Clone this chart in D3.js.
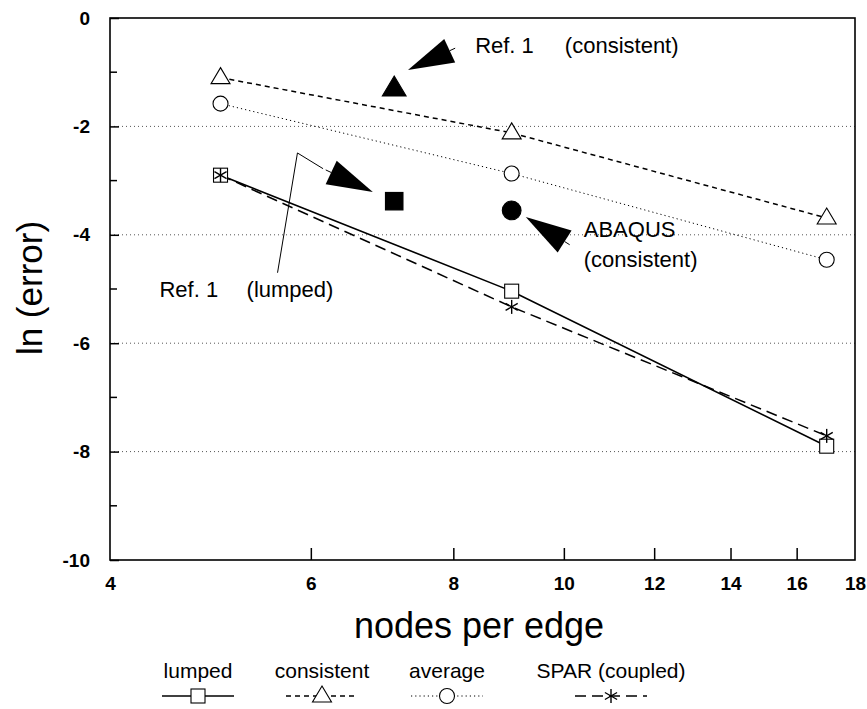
<!DOCTYPE html>
<html>
<head>
<meta charset="utf-8">
<script src="https://cdn.jsdelivr.net/npm/d3@7"></script>
<style>
  body { margin: 0; background: #fff; }
  text { font-family: "Liberation Sans", Arial, sans-serif; fill: #000; }
</style>
</head>
<body>
<div id="chart"></div>
<script>
// nodes per edge
var nodes = [5, 9, 17];
// ln(error) per formulation
var lumped = [-2.9, -5.04, -7.9];
var consistent = [-1.1, -2.12, -3.69];
var average = [-1.58, -2.87, -4.46];
var spar = [-2.9, -5.33, -7.71];

// single reference results (filled symbols)
var refPoints = [
  {shape: "triangle", x: 7.1, y: -1.3},
  {shape: "square", x: 7.1, y: -3.38},
  {shape: "circle", x: 9.0, y: -3.55}
];

var xTicks = [4, 6, 8, 10, 12, 14, 16, 18];
var yTicks = [0, -2, -4, -6, -8, -10];
var yMinor = [-1, -3, -5, -7, -9];
var gridY = [-2, -4, -6, -8];

var width = 867, height = 709;
var margin = {top: 18, right: 12, bottom: 149, left: 110};

var svg = d3.select("#chart").append("svg")
    .attr("width", width)
    .attr("height", height);

var x = d3.scaleLog().domain([4, 18]).range([margin.left, width - margin.right]);
var y = d3.scaleLinear().domain([-10, 0]).range([height - margin.bottom, margin.top]);

// gridlines
svg.selectAll(".grid").data(gridY).enter().append("line")
    .attr("x1", x(4)).attr("x2", x(18))
    .attr("y1", function(d){ return y(d); })
    .attr("y2", function(d){ return y(d); })
    .style("stroke", "#555")
    .style("stroke-width", 1)
    .style("stroke-dasharray", "1,3");

// frame
svg.append("rect")
    .attr("x", x(4)).attr("y", y(0))
    .attr("width", x(18) - x(4))
    .attr("height", y(-10) - y(0))
    .style("fill", "none")
    .style("stroke", "#000")
    .style("stroke-width", 1.6);

// axes, ticks point inside
var yAxis = d3.axisLeft(y).tickValues(yTicks).tickSize(-9).tickPadding(20)
    .tickFormat(function(d){ return d3.format("d")(d).replace("−", "-"); });
var gy = svg.append("g").attr("transform", "translate(" + x(4) + ",0)").call(yAxis);
gy.select(".domain").remove();
gy.selectAll("line").style("stroke-width", 1.5);
gy.selectAll("text").style("font-size", "19px").style("font-weight", "bold");

svg.selectAll(".yminor").data(yMinor).enter().append("line")
    .attr("x1", x(4)).attr("x2", x(4) + 7)
    .attr("y1", function(d){ return y(d); })
    .attr("y2", function(d){ return y(d); })
    .style("stroke", "#000").style("stroke-width", 1.5);

var xAxis = d3.axisBottom(x).tickValues(xTicks).tickSize(-12).tickPadding(17)
    .tickFormat(d3.format("d"));
var gx = svg.append("g").attr("transform", "translate(0," + y(-10) + ")").call(xAxis);
gx.select(".domain").remove();
gx.selectAll("line").style("stroke-width", 1.5)
    .filter(function(d){ return d == 4 || d == 18; }).remove();
gx.selectAll("text").style("font-size", "19px").style("font-weight", "bold");

// axis titles
svg.append("text")
    .attr("transform", "translate(42,288) rotate(-90)")
    .style("text-anchor", "middle")
    .style("font-size", "35px")
    .text("ln (error)");

svg.append("text")
    .attr("x", 479)
    .attr("y", 638)
    .style("text-anchor", "middle")
    .style("font-size", "36px")
    .text("nodes per edge");

// series
var series = [
  {name: "lumped", values: lumped, dash: null, width: 1.6, marker: "square"},
  {name: "consistent", values: consistent, dash: "5,4", width: 1.5, marker: "triangle"},
  {name: "average", values: average, dash: "1.2,3", width: 1, marker: "circle"},
  {name: "SPAR (coupled)", values: spar, dash: "11,6", width: 1.5, marker: "star"}
];

var line = d3.line()
    .x(function(d){ return x(d[0]); })
    .y(function(d){ return y(d[1]); });

function marker(g, shape, filled, size) {
  var s = size || 1;
  var fill = filled ? "#000" : "#fff";
  if (shape == "square") {
    g.append("rect").attr("x", -7 * s).attr("y", -7 * s).attr("width", 14 * s).attr("height", 14 * s)
      .style("fill", fill).style("stroke", "#000").style("stroke-width", 1.1);
  } else if (shape == "triangle") {
    g.append("path").attr("d", "M0," + (-10 * s) + "L" + (9.5 * s) + "," + (6 * s) + "L" + (-9.5 * s) + "," + (6 * s) + "Z")
      .style("fill", fill).style("stroke", "#000").style("stroke-width", 1.1);
  } else if (shape == "circle") {
    g.append("circle").attr("r", 7.5 * s)
      .style("fill", fill).style("stroke", "#000").style("stroke-width", 1.1);
  } else if (shape == "star") {
    var r = 7 * s;
    [0, 60, 120].forEach(function(a){
      var rad = a * Math.PI / 180;
      g.append("line")
        .attr("x1", -r * Math.sin(rad)).attr("y1", -r * Math.cos(rad))
        .attr("x2", r * Math.sin(rad)).attr("y2", r * Math.cos(rad))
        .style("stroke", "#000").style("stroke-width", 1.4);
    });
  }
}

series.forEach(function(s){
  var pts = nodes.map(function(n, i){ return [n, s.values[i]]; });
  svg.append("path")
    .datum(pts)
    .attr("d", line)
    .style("fill", "none")
    .style("stroke", "#000")
    .style("stroke-width", s.width)
    .style("stroke-dasharray", s.dash);
});

series.forEach(function(s){
  nodes.forEach(function(n, i){
    var g = svg.append("g").attr("transform", "translate(" + x(n) + "," + y(s.values[i]) + ")");
    marker(g, s.marker, false);
  });
});

refPoints.forEach(function(p){
  var g = svg.append("g").attr("transform", "translate(" + x(p.x) + "," + y(p.y) + ")");
  marker(g, p.shape, true, 1.25);
});

// annotations (data coordinates)
var arrows = [
  {tail: [8.1, -0.52], tip: [7.3, -0.96], path: []},
  {tail: [6.15, -2.78], tip: [6.8, -3.21], path: [[5.61, -4.7], [5.84, -2.49]]},
  {tail: [10.2, -4.23], tip: [9.26, -3.67], path: []}
];

arrows.forEach(function(a){
  var tx = x(a.tip[0]), ty = y(a.tip[1]);
  var bx = x(a.tail[0]), by = y(a.tail[1]);
  var pts = a.path.map(function(p){ return [x(p[0]), y(p[1])]; });
  pts.push([bx, by]);
  if (pts.length > 1) {
    svg.append("path")
      .attr("d", d3.line()(pts))
      .style("fill", "none").style("stroke", "#000").style("stroke-width", 1);
  }
  var dx = tx - bx, dy = ty - by;
  var len = Math.sqrt(dx * dx + dy * dy);
  var ux = dx / len, uy = dy / len;
  var hl = 46, hw = 13;
  var hx = tx - ux * hl, hy = ty - uy * hl;
  svg.append("path")
    .attr("d", "M" + tx + "," + ty +
      "L" + (hx - uy * hw) + "," + (hy + ux * hw) +
      "L" + (hx + uy * hw) + "," + (hy - ux * hw) + "Z")
    .style("fill", "#000");
  // short tail beyond the head base
  svg.append("line")
    .attr("x1", hx).attr("y1", hy)
    .attr("x2", hx - ux * 6).attr("y2", hy - uy * 6)
    .style("stroke", "#000").style("stroke-width", 1);
});

var notes = [
  {text: "Ref. 1", x: 8.36, y: -0.65},
  {text: "(consistent)", x: 10.02, y: -0.65},
  {text: "Ref. 1", x: 4.42, y: -5.15},
  {text: "(lumped)", x: 5.27, y: -5.15},
  {text: "ABAQUS", x: 10.41, y: -4.04},
  {text: "(consistent)", x: 10.41, y: -4.59}
];

svg.selectAll(".note").data(notes).enter().append("text")
    .attr("x", function(d){ return x(d.x); })
    .attr("y", function(d){ return y(d.y); })
    .style("font-size", "22px")
    .text(function(d){ return d.text; });

// legend
var legendX = [198, 322, 447, 611];
var legend = svg.selectAll(".legend").data(series).enter().append("g")
    .attr("transform", function(d, i){ return "translate(" + legendX[i] + ",0)"; });

legend.append("text")
    .attr("y", 678)
    .style("text-anchor", "middle")
    .style("font-size", "21px")
    .text(function(d){ return d.name; });

legend.append("line")
    .attr("x1", -36).attr("x2", 36)
    .attr("y1", 696).attr("y2", 696)
    .style("stroke", "#000")
    .style("stroke-width", function(d){ return d.width; })
    .style("stroke-dasharray", function(d){ return d.dash; });

legend.each(function(d){
  var g = d3.select(this).append("g").attr("transform", "translate(0,696)");
  marker(g, d.marker, false);
});
</script>
</body>
</html>
